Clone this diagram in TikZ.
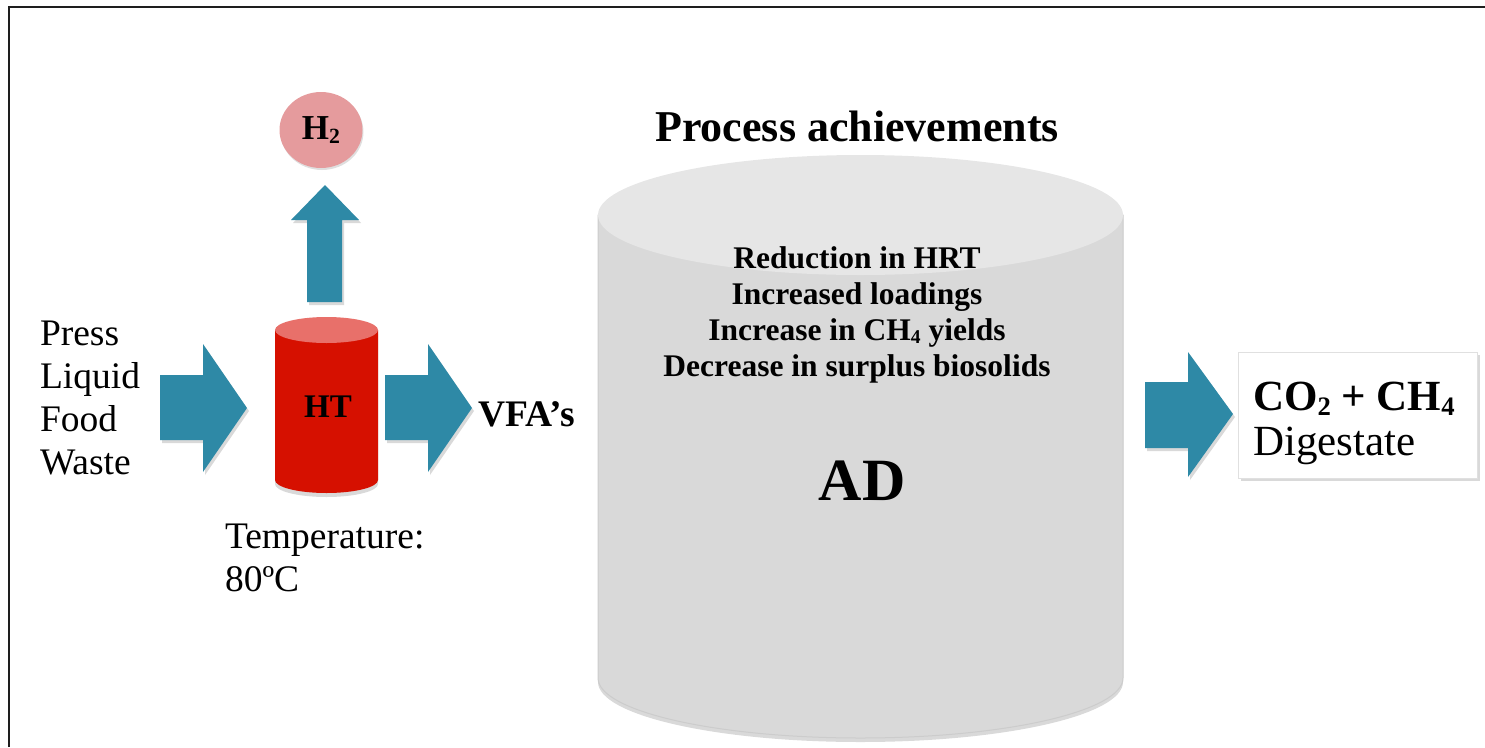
\documentclass[tikz,border=0pt]{standalone}
\usepackage{fontspec}
\setmainfont{Liberation Serif}
\usetikzlibrary{shadows,shapes.geometric}

\definecolor{flowblue}{RGB}{46,137,166}
\definecolor{htred}{RGB}{214,16,0}
\definecolor{htcap}{RGB}{232,112,106}
\definecolor{adbody}{RGB}{217,217,217}
\definecolor{adcap}{RGB}{230,230,230}
\definecolor{gaspink}{RGB}{229,155,157}
\definecolor{framegray}{RGB}{30,30,30}

% chemical subscript (small, slightly lowered)
\newcommand\chemsub[1]{\raisebox{-0.12em}{\scalebox{0.62}{#1}}}

\begin{document}
\begin{tikzpicture}[x=1pt,y=-1pt,
  every node/.style={inner sep=0pt, outer sep=0pt},
  blockarrow/.style={fill=flowblue,
    drop shadow={shadow xshift=2pt, shadow yshift=-3pt, opacity=0.3}},
  regtext/.style={font=\fontsize{37.5}{43}\selectfont},
  boldtext/.style={font=\bfseries\fontsize{37.5}{43}\selectfont},
  softshadow/.style={drop shadow={shadow xshift=0pt, shadow yshift=-4pt, opacity=0.3}},
]
\useasboundingbox (0,0) rectangle (1485,747);

% open frame (left and top edges)
\draw[framegray, line width=2.5pt] (9,747) -- (9,7) -- (1485,7);

% hydrogen bubble
\node[ellipse, fill=gaspink, minimum width=83, minimum height=76,
  drop shadow={shadow xshift=1pt, shadow yshift=-2pt, opacity=0.25},
  font=\bfseries\fontsize{35}{40}\selectfont] (h2) at (321,130) {H\chemsub{2}};

% HT reactor: body, then top cap
\path[fill=htred, softshadow]
  (275,330) -- (275,480) arc[start angle=180, end angle=0, x radius=51.5, y radius=13]
  -- (378,330) -- cycle;
\fill[htcap] (326.5,330) ellipse[x radius=51.5, y radius=13];
\node[font=\bfseries\fontsize{33}{38}\selectfont, anchor=base] (ht) at (328,417) {HT};

% AD reactor: body, then top cap
\path[fill=adbody, draw=black!20, line width=1pt, softshadow]
  (598,215) -- (598,678) arc[start angle=180, end angle=0, x radius=262.5, y radius=60]
  -- (1123,215) -- cycle;
\fill[adcap] (860.5,215) ellipse[x radius=262.5, y radius=60];

\node[font=\bfseries\fontsize{44}{50}\selectfont, anchor=base] (title) at (857,141)
  {Process achievements};
\node[font=\bfseries\fontsize{31.5}{36}\selectfont, anchor=base] (gains) at (857,268)
  {\begin{tabular}[t]{@{}c@{}}Reduction in HRT\\Increased loadings\\
   Increase in CH\chemsub{4} yields\\Decrease in surplus biosolids\end{tabular}};
\node[font=\bfseries\fontsize{60}{66}\selectfont, anchor=base] (ad) at (862,500) {AD};

% feed, conditions and intermediate product
\node[regtext, anchor=base west] (feed) at (40,345)
  {\begin{tabular}[t]{@{}l@{}}Press\\Liquid\\Food\\Waste\end{tabular}};
\node[regtext, anchor=base west] (temp) at (225,548)
  {\begin{tabular}[t]{@{}l@{}}Temperature:\\80ºC\end{tabular}};
\node[boldtext, anchor=base west] (vfa) at (478,426) {VFA's};

% products box
\node[fill=white, draw=black!12, minimum width=239, minimum height=126, anchor=north west,
  drop shadow={shadow xshift=3pt, shadow yshift=-3pt, opacity=0.3}] (prodbox) at (1238,352) {};
\node[font=\fontsize{43}{45}\selectfont, anchor=base west] (prodtext) at (1253,410)
  {\begin{tabular}[t]{@{}l@{}}\textbf{CO\chemsub{2} + CH\chemsub{4}}\\Digestate\end{tabular}};

% block arrows
\path[blockarrow] (160,375) -- (203,375) -- (203,344) -- (247,408) -- (203,472)
  -- (203,440) -- (160,440) -- cycle;
\path[blockarrow] (385,375) -- (428,375) -- (428,344) -- (472,408) -- (428,472)
  -- (428,440) -- (385,440) -- cycle;
\path[blockarrow] (307,302) -- (307,220) -- (291,220) -- (325,185) -- (359,220)
  -- (342,220) -- (342,302) -- cycle;
\path[blockarrow] (1145,382) -- (1188,382) -- (1188,352) -- (1233,414) -- (1188,477)
  -- (1188,448) -- (1145,448) -- cycle;
\end{tikzpicture}
\end{document}
